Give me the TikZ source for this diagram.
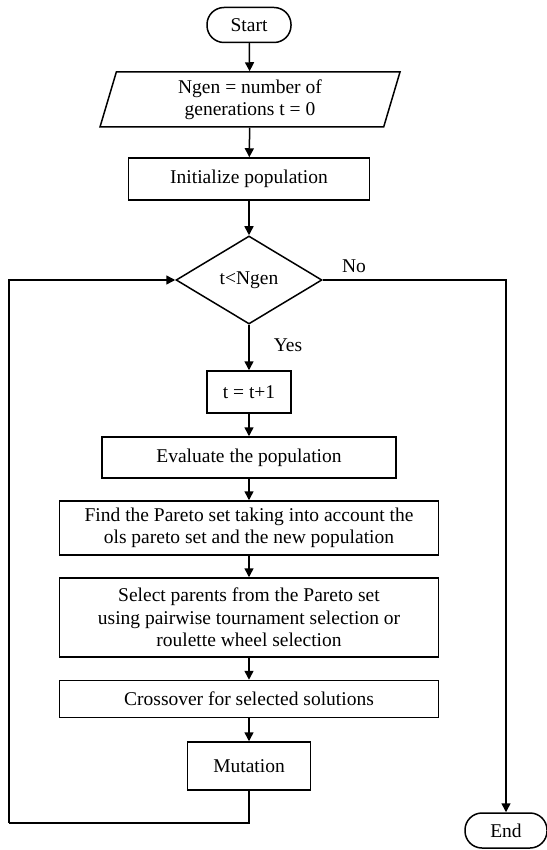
\documentclass[tikz,border=0pt]{standalone}
\usepackage{fontspec}
\setmainfont{Liberation Serif}
\usepackage{tikz}
\usetikzlibrary{shapes.geometric,arrows.meta}

\begin{document}
\begin{tikzpicture}[x=1pt,y=-1pt,
    font=\fontsize{19.5}{22.5}\selectfont,
    every node/.style={line width=1.5pt,inner sep=0pt,align=center},
    term/.style={draw,rounded corners=17pt,minimum height=35pt},
    proc/.style={draw,minimum height=42pt},
    io/.style={draw,trapezium,trapezium left angle=68,trapezium right angle=112,
      trapezium stretches body,minimum width=300pt,minimum height=55pt},
    test/.style={draw,diamond,minimum width=146pt,minimum height=88pt},
    flow/.style={line width=1.5pt,-{Triangle[length=9pt,width=9pt]}},
    wire/.style={line width=1.5pt}]
  \useasboundingbox (0,0) rectangle (546,850);
  \node[term,minimum width=84pt] (start) at (249,25) {Start};
  \node[io] (ngen) at (250,99.5) {Ngen = number of\\generations t = 0};
  \node[proc,minimum width=241pt] (init) at (249,179) {Initialize population};
  \node[test] (cond) at (249,280) {t<Ngen};
  \node[proc,minimum width=84pt] (incr) at (249,392) {t = t+1};
  \node[proc,minimum width=294pt,minimum height=41pt] (eval) at (249,457.5) {Evaluate the population};
  \node[proc,minimum width=379pt,minimum height=54pt] (pareto) at (249,528) {Find the Pareto set taking into account the\\ols pareto set and the new population};
  \node[proc,minimum width=379pt,minimum height=79pt] (select) at (249,617.5) {Select parents from the Pareto set\\using pairwise tournament selection or\\roulette wheel selection};
  \node[proc,minimum width=379pt,minimum height=37pt] (cross) at (249,699) {Crossover for selected solutions};
  \node[proc,minimum width=123pt,minimum height=48pt] (mut) at (249,766) {Mutation};
  \node[term,minimum width=82pt] (stop) at (506,830.5) {End};
  \node (no) at (354,266) {No};
  \node (yes) at (288,345) {Yes};
  \coordinate (back) at (9,823);
  \draw[flow] (start) -- (ngen);
  \draw[flow] (ngen) -- (init);
  \draw[flow] (init) -- (cond);
  \draw[flow] (cond) -- (incr);
  \draw[flow] (incr) -- (eval);
  \draw[flow] (eval) -- (pareto);
  \draw[flow] (pareto) -- (select);
  \draw[flow] (select) -- (cross);
  \draw[flow] (cross) -- (mut);
  \draw[wire] (mut.south) |- (back);
  \draw[flow] (back) |- (cond.west);
  \draw[flow] (cond.east) -| (stop.north);
\end{tikzpicture}
\end{document}
